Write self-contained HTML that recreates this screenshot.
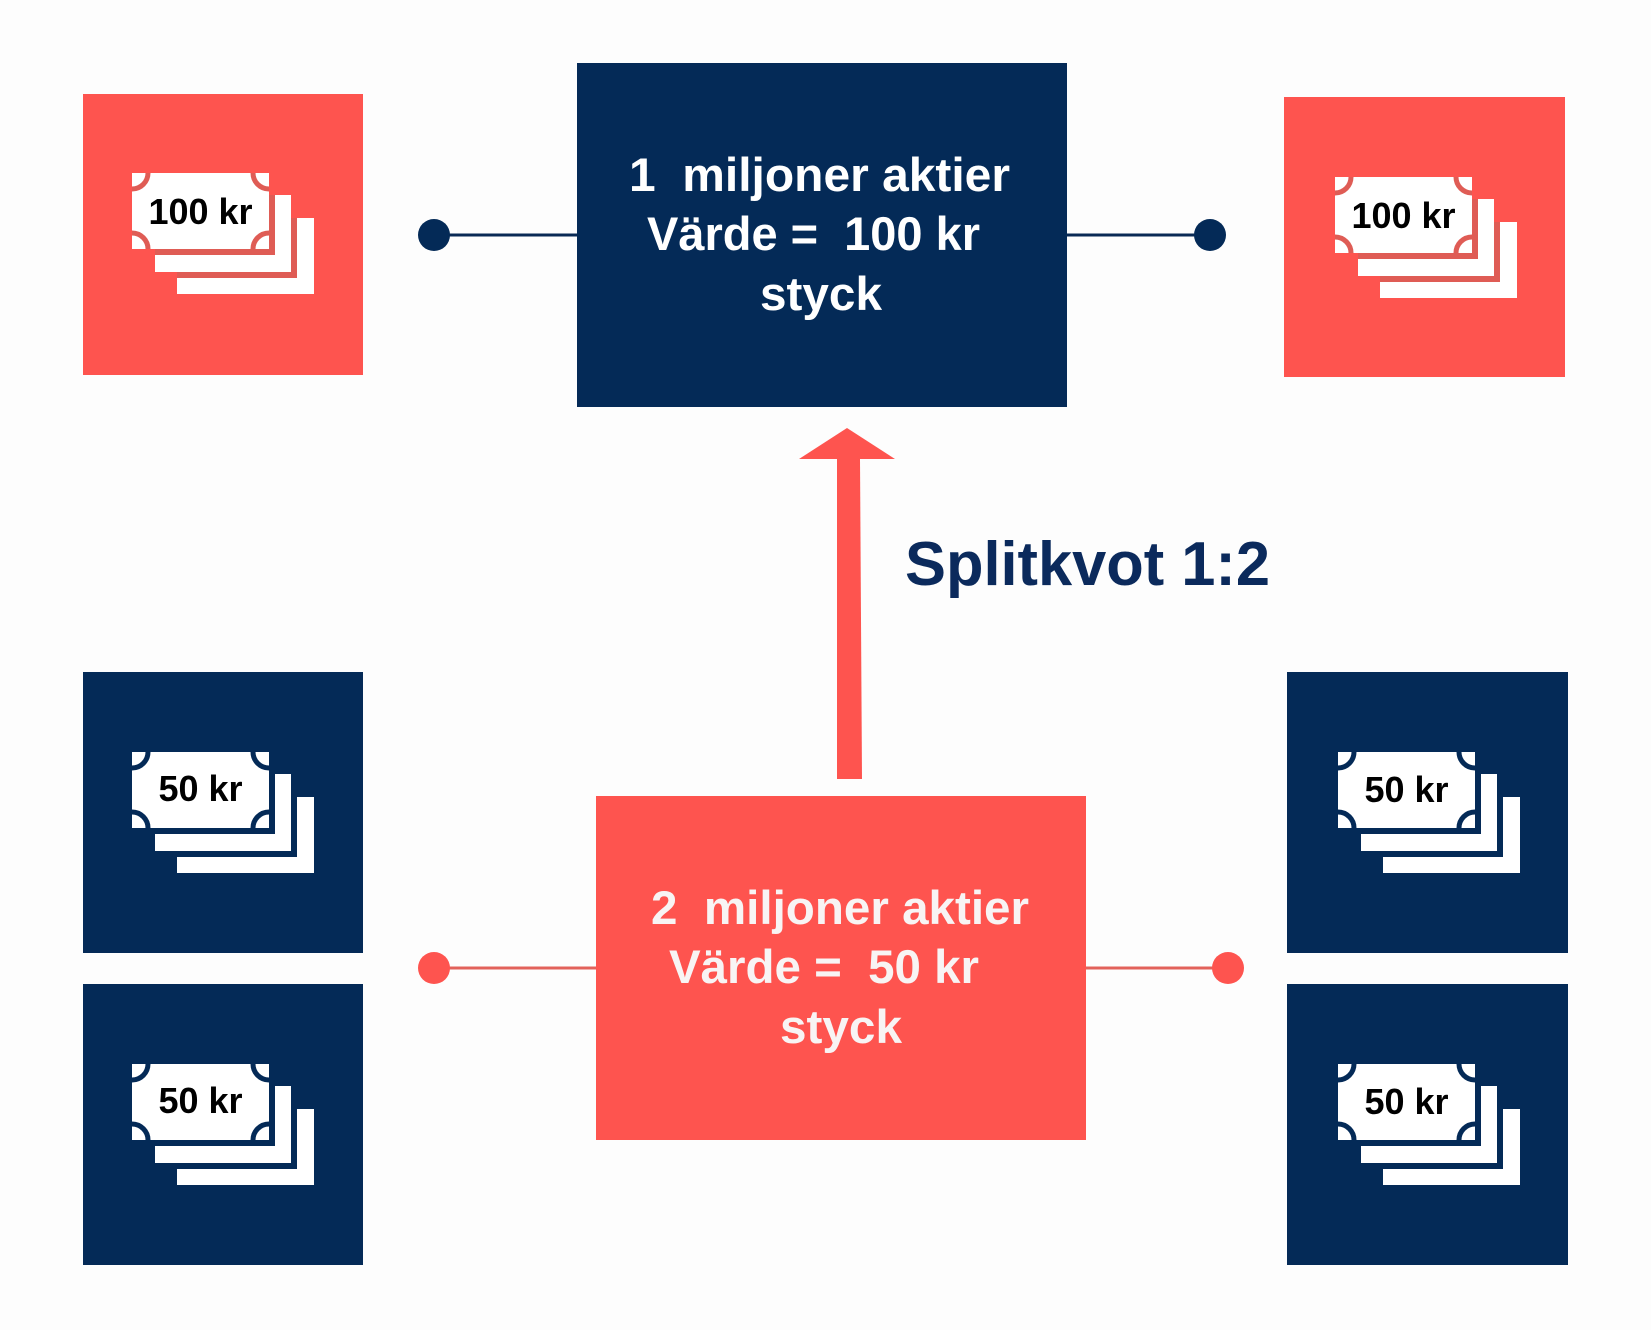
<!DOCTYPE html>
<html>
<head>
<meta charset="utf-8">
<style>
  html, body { margin: 0; padding: 0; background: #fdfdfd; }
  svg { display: block; }
  text { font-family: "Liberation Sans", Arial, sans-serif; font-weight: bold; white-space: pre; }
</style>
</head>
<body>
<svg width="1651" height="1330" viewBox="0 0 1651 1330" xmlns="http://www.w3.org/2000/svg">
  <rect x="0" y="0" width="1651" height="1330" fill="#fdfdfd"/>

  <!-- connectors top -->
  <line x1="434" y1="235" x2="580" y2="235" stroke="#0a2a55" stroke-width="3"/>
  <line x1="1064" y1="235" x2="1210" y2="235" stroke="#0a2a55" stroke-width="3"/>
  <circle cx="434" cy="235" r="16" fill="#042a57"/>
  <circle cx="1210" cy="235" r="16" fill="#042a57"/>

  <!-- connectors bottom -->
  <line x1="434" y1="968" x2="598" y2="968" stroke="#e2625b" stroke-width="3"/>
  <line x1="1084" y1="968" x2="1228" y2="968" stroke="#e2625b" stroke-width="3"/>
  <circle cx="434" cy="968" r="16" fill="#fe544f"/>
  <circle cx="1228" cy="968" r="16" fill="#fe544f"/>

  <!-- top navy box -->
  <rect x="577" y="63" width="490" height="344" fill="#042a57"/>
  <text x="629" y="191" font-size="47" fill="#ffffff" textLength="381" lengthAdjust="spacingAndGlyphs">1  miljoner aktier</text>
  <text x="647" y="250" font-size="47" fill="#ffffff" textLength="333" lengthAdjust="spacingAndGlyphs">Värde =  100 kr</text>
  <text x="760" y="310" font-size="47" fill="#ffffff" textLength="122" lengthAdjust="spacingAndGlyphs">styck</text>

  <!-- bottom red box -->
  <rect x="596" y="796" width="490" height="344" fill="#fe544f"/>
  <text x="651" y="924" font-size="47" fill="#f8f4f4" textLength="378" lengthAdjust="spacingAndGlyphs">2  miljoner aktier</text>
  <text x="669" y="983" font-size="47" fill="#f8f4f4" textLength="310" lengthAdjust="spacingAndGlyphs">Värde =  50 kr</text>
  <text x="780" y="1043" font-size="47" fill="#f8f4f4" textLength="122" lengthAdjust="spacingAndGlyphs">styck</text>

  <!-- arrow -->
  <polygon points="837,459 860,459 862,779 837,779" fill="#fe544f"/>
  <polygon points="847,428 895,459 799,459" fill="#fe544f"/>

  <!-- Splitkvot label -->
  <text x="905" y="585" font-size="62" fill="#0b2a5c" textLength="365" lengthAdjust="spacingAndGlyphs">Splitkvot 1:2</text>

  <!-- side boxes -->
  <rect x="83" y="94" width="280" height="281" fill="#fe544f"/>
  <rect x="1284" y="97" width="281" height="280" fill="#fe544f"/>
  <rect x="83" y="672" width="280" height="281" fill="#042a57"/>
  <rect x="83" y="984" width="280" height="281" fill="#042a57"/>
  <rect x="1287" y="672" width="281" height="281" fill="#042a57"/>
  <rect x="1287" y="984" width="281" height="281" fill="#042a57"/>

  <!-- bill: top-left -->
  <g transform="translate(132,173)" style="color:#df5c55">
    <rect x="45" y="45" width="137" height="76" fill="#fff"/>
    <rect x="23" y="22" width="136" height="77" fill="#fff"/>
    <path d="M159,45 H165 V105 H45 V99 H159 Z" fill="currentColor"/>
    <path d="M137,22 H143 V82 H23 V76 H137 Z" fill="currentColor"/>
    <rect x="0" y="0" width="137" height="76" fill="#fff"/>
    <svg x="0" y="0" width="137" height="76" overflow="hidden">
      <g fill="none" stroke="currentColor" stroke-width="5">
        <circle cx="0" cy="0" r="16"/><circle cx="137" cy="0" r="16"/>
        <circle cx="0" cy="76" r="16"/><circle cx="137" cy="76" r="16"/>
      </g>
    </svg>
    <text x="68.5" y="51" font-size="36" fill="#000" text-anchor="middle">100 kr</text>
  </g>

  <!-- bill: top-right -->
  <g transform="translate(1335,177)" style="color:#df5c55">
    <rect x="45" y="45" width="137" height="76" fill="#fff"/>
    <rect x="23" y="22" width="136" height="77" fill="#fff"/>
    <path d="M159,45 H165 V105 H45 V99 H159 Z" fill="currentColor"/>
    <path d="M137,22 H143 V82 H23 V76 H137 Z" fill="currentColor"/>
    <rect x="0" y="0" width="137" height="76" fill="#fff"/>
    <svg x="0" y="0" width="137" height="76" overflow="hidden">
      <g fill="none" stroke="currentColor" stroke-width="5">
        <circle cx="0" cy="0" r="16"/><circle cx="137" cy="0" r="16"/>
        <circle cx="0" cy="76" r="16"/><circle cx="137" cy="76" r="16"/>
      </g>
    </svg>
    <text x="68.5" y="51" font-size="36" fill="#000" text-anchor="middle">100 kr</text>
  </g>

  <!-- bill: mid-left -->
  <g transform="translate(132,752)" style="color:#042a57">
    <rect x="45" y="45" width="137" height="76" fill="#fff"/>
    <rect x="23" y="22" width="136" height="77" fill="#fff"/>
    <path d="M159,45 H165 V105 H45 V99 H159 Z" fill="currentColor"/>
    <path d="M137,22 H143 V82 H23 V76 H137 Z" fill="currentColor"/>
    <rect x="0" y="0" width="137" height="76" fill="#fff"/>
    <svg x="0" y="0" width="137" height="76" overflow="hidden">
      <g fill="none" stroke="currentColor" stroke-width="5">
        <circle cx="0" cy="0" r="16"/><circle cx="137" cy="0" r="16"/>
        <circle cx="0" cy="76" r="16"/><circle cx="137" cy="76" r="16"/>
      </g>
    </svg>
    <text x="68.5" y="49" font-size="36" fill="#000" text-anchor="middle">50 kr</text>
  </g>

  <!-- bill: bottom-left -->
  <g transform="translate(132,1064)" style="color:#042a57">
    <rect x="45" y="45" width="137" height="76" fill="#fff"/>
    <rect x="23" y="22" width="136" height="77" fill="#fff"/>
    <path d="M159,45 H165 V105 H45 V99 H159 Z" fill="currentColor"/>
    <path d="M137,22 H143 V82 H23 V76 H137 Z" fill="currentColor"/>
    <rect x="0" y="0" width="137" height="76" fill="#fff"/>
    <svg x="0" y="0" width="137" height="76" overflow="hidden">
      <g fill="none" stroke="currentColor" stroke-width="5">
        <circle cx="0" cy="0" r="16"/><circle cx="137" cy="0" r="16"/>
        <circle cx="0" cy="76" r="16"/><circle cx="137" cy="76" r="16"/>
      </g>
    </svg>
    <text x="68.5" y="49" font-size="36" fill="#000" text-anchor="middle">50 kr</text>
  </g>

  <!-- bill: mid-right -->
  <g transform="translate(1338,752)" style="color:#042a57">
    <rect x="45" y="45" width="137" height="76" fill="#fff"/>
    <rect x="23" y="22" width="136" height="77" fill="#fff"/>
    <path d="M159,45 H165 V105 H45 V99 H159 Z" fill="currentColor"/>
    <path d="M137,22 H143 V82 H23 V76 H137 Z" fill="currentColor"/>
    <rect x="0" y="0" width="137" height="76" fill="#fff"/>
    <svg x="0" y="0" width="137" height="76" overflow="hidden">
      <g fill="none" stroke="currentColor" stroke-width="5">
        <circle cx="0" cy="0" r="16"/><circle cx="137" cy="0" r="16"/>
        <circle cx="0" cy="76" r="16"/><circle cx="137" cy="76" r="16"/>
      </g>
    </svg>
    <text x="68.5" y="50" font-size="36" fill="#000" text-anchor="middle">50 kr</text>
  </g>

  <!-- bill: bottom-right -->
  <g transform="translate(1338,1064)" style="color:#042a57">
    <rect x="45" y="45" width="137" height="76" fill="#fff"/>
    <rect x="23" y="22" width="136" height="77" fill="#fff"/>
    <path d="M159,45 H165 V105 H45 V99 H159 Z" fill="currentColor"/>
    <path d="M137,22 H143 V82 H23 V76 H137 Z" fill="currentColor"/>
    <rect x="0" y="0" width="137" height="76" fill="#fff"/>
    <svg x="0" y="0" width="137" height="76" overflow="hidden">
      <g fill="none" stroke="currentColor" stroke-width="5">
        <circle cx="0" cy="0" r="16"/><circle cx="137" cy="0" r="16"/>
        <circle cx="0" cy="76" r="16"/><circle cx="137" cy="76" r="16"/>
      </g>
    </svg>
    <text x="68.5" y="50" font-size="36" fill="#000" text-anchor="middle">50 kr</text>
  </g>
</svg>
</body>
</html>
